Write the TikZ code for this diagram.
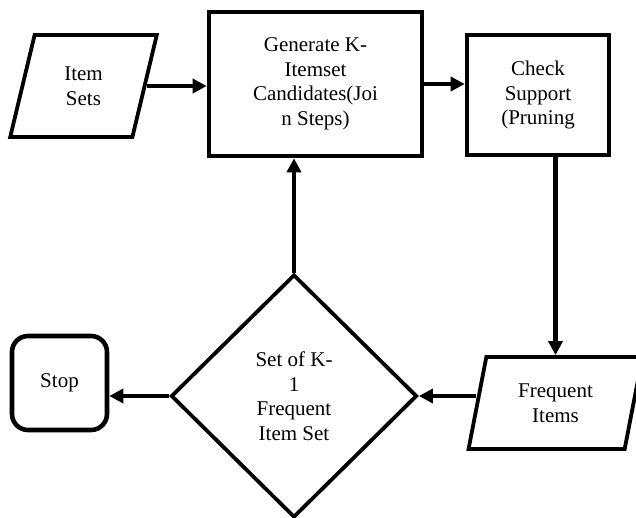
\documentclass[tikz,border=0pt]{standalone}
\usepackage{fontspec}
\setmainfont{Liberation Serif}
\usepackage{tikz}
\usetikzlibrary{shapes.geometric}
\usetikzlibrary{arrows.meta}

\begin{document}
\begin{tikzpicture}[x=1pt,y=-1pt,
  every node/.style={font=\fontsize{21}{24.5}\selectfont, align=center, inner sep=0pt},
  procbox/.style={draw, line width=4.6pt, rectangle},
  iobox/.style={draw, line width=3.8pt, trapezium, trapezium left angle=76, trapezium right angle=104, trapezium stretches=true},
  arr/.style={line width=4.4pt, -{Triangle[length=14pt,width=14pt]}}]
\useasboundingbox (0,0) rectangle (636,517);
%%% The input and the two steps of one round
\node[iobox, minimum width=147pt, minimum height=102pt] (items) at (83.5,86) {Item\\Sets};
\node[procbox, minimum width=213pt, minimum height=144pt] (gen) at (315.5,84) {Generate K-\\Itemset\\Candidates(Joi\\n Steps)};
\node[procbox, minimum width=142pt, minimum height=120pt] (check) at (538,95) {Check\\Support\\(Pruning};
%%% The output of the round and the test
\node[iobox, minimum width=175pt, minimum height=92pt] (freq) at (555.5,403) {Frequent\\Items};
\node[draw, line width=3.8pt, diamond, minimum width=246pt, minimum height=243pt] (dia) at (294,396) {Set of K-\\1\\Frequent\\Item Set};
\node[procbox, rounded corners=16pt, minimum width=95pt, minimum height=94pt] (stop) at (59.5,383) {Stop};
%%%%%% The edges
\draw[arr] (items.east) -- (items.east -| gen.west);
\draw[arr] (gen.east) -- (gen.east -| check.west);
\draw[arr] (check.south -| freq.north) -- (freq.north);
\draw[arr] (freq.west |- dia.east) -- (dia.east);
\draw[arr] (dia.north) -- (dia.north |- gen.south);
\draw[arr] (dia.west) -- (dia.west -| stop.east);
\end{tikzpicture}
\end{document}
